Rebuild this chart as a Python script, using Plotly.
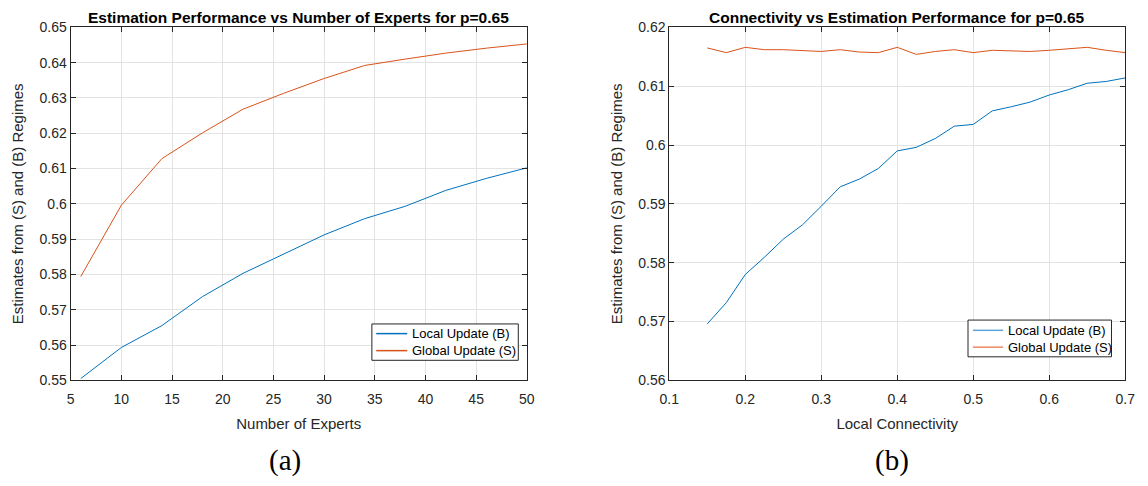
import plotly.graph_objects as go

# Panel (a): performance vs number of experts
experts = [6, 10, 14, 18, 22, 26, 30, 34, 38, 42, 46, 50]
local_a = [0.5505, 0.5593, 0.5655, 0.5737, 0.5803, 0.5857, 0.5912, 0.5958, 0.5993, 0.6038, 0.6072, 0.6102]
global_a = [0.5794, 0.5996, 0.6128, 0.6201, 0.6268, 0.6313, 0.6355, 0.6392, 0.6410, 0.6427, 0.6441, 0.6453]

# Panel (b): performance vs local connectivity
connectivity = [0.15, 0.175, 0.2, 0.225, 0.25, 0.275, 0.3, 0.325, 0.35, 0.375, 0.4, 0.425,
                0.45, 0.475, 0.5, 0.525, 0.55, 0.575, 0.6, 0.625, 0.65, 0.675, 0.7]
local_b = [0.5696, 0.5732, 0.5780, 0.5809, 0.5840, 0.5864, 0.5896, 0.5929, 0.5942, 0.5960,
           0.5990, 0.5996, 0.6011, 0.6032, 0.6035, 0.6058, 0.6065, 0.6073, 0.6085, 0.6094,
           0.6105, 0.6108, 0.6114]
global_b = [0.6165, 0.6157, 0.6166, 0.6162, 0.6162, 0.6160, 0.6159, 0.6162, 0.6158, 0.6157,
            0.6166, 0.6154, 0.6159, 0.6162, 0.6157, 0.6161, 0.6160, 0.6159, 0.6161, 0.6163,
            0.6166, 0.6161, 0.6157]

series_names = ["Local Update (B)", "Global Update (S)"]

BLUE = "#0072BD"
ORANGE = "#D95319"
AXIS = "#262626"
GRID = "#e3e3e3"
SANS = "Liberation Sans, Arial, sans-serif"
W, H = 1148, 486

fig = go.Figure()
fig.add_trace(go.Scatter(x=experts, y=local_a, mode="lines", name=series_names[0],
                         line=dict(color=BLUE, width=1), xaxis="x", yaxis="y"))
fig.add_trace(go.Scatter(x=experts, y=global_a, mode="lines", name=series_names[1],
                         line=dict(color=ORANGE, width=1), xaxis="x", yaxis="y"))
fig.add_trace(go.Scatter(x=connectivity, y=local_b, mode="lines", name=series_names[0],
                         line=dict(color=BLUE, width=1), xaxis="x2", yaxis="y2"))
fig.add_trace(go.Scatter(x=connectivity, y=global_b, mode="lines", name=series_names[1],
                         line=dict(color=ORANGE, width=1), xaxis="x2", yaxis="y2"))

tick_font = dict(family=SANS, size=14, color=AXIS)
title_font = dict(family=SANS, size=15, color=AXIS)


def axis_style(**kw):
    base = dict(showline=True, linecolor=AXIS, linewidth=1, mirror="ticks",
                ticks="inside", ticklen=5, tickcolor=AXIS, tickwidth=1,
                showgrid=True, gridcolor=GRID, gridwidth=1, zeroline=False,
                tickfont=tick_font, title_font=title_font)
    base.update(kw)
    return base


ytop = 1 - 20 / H
ybot = 1 - 385 / H
dom_a = [61.7 / W, 526 / W]
dom_b = [671 / W, 1135 / W]

fig.update_layout(
    width=W, height=H,
    margin=dict(l=0, r=0, t=0, b=0),
    paper_bgcolor="white", plot_bgcolor="white",
    showlegend=False,
    xaxis=axis_style(domain=dom_a, range=[5, 50], dtick=5, tick0=5, ticklabelstandoff=6,
                     title=dict(text="Number of Experts", standoff=12), anchor="y"),
    yaxis=axis_style(domain=[ybot, ytop], range=[0.55, 0.65], dtick=0.01, tick0=0.55,
                     title=dict(text="Estimates from (S) and (B) Regimes", standoff=12), anchor="x"),
    xaxis2=axis_style(domain=dom_b, range=[0.1, 0.7], dtick=0.1, tick0=0.1, ticklabelstandoff=6,
                      title=dict(text="Local Connectivity", standoff=12), anchor="y2"),
    yaxis2=axis_style(domain=[ybot, ytop], range=[0.56, 0.62], dtick=0.01, tick0=0.56,
                      title=dict(text="Estimates from (S) and (B) Regimes", standoff=12), anchor="x2"),
)


def px_x(v):
    return v / W


def px_y(v):
    return 1 - v / H


# Boxed legends, one per panel (box, sample lines, labels in pixel layout units)
legend_specs = [
    dict(box=(368.3, 326.7, 517.3, 364.3), line_x=(372.7, 404.3), rows=(336.7, 354.3),
         text_x=407.5, colors=(BLUE, ORANGE)),
    dict(box=(975.0, 322.7, 1121.0, 360.7), line_x=(980.0, 1010.7), rows=(333.3, 350.7),
         text_x=1013.5, colors=("#5aa6dc", "#ec8a62")),
]
for spec in legend_specs:
    x0, y0, x1, y1 = spec["box"]
    fig.add_shape(type="rect", xref="paper", yref="paper",
                  x0=px_x(x0), x1=px_x(x1), y0=px_y(y1), y1=px_y(y0),
                  line=dict(color=AXIS, width=1), fillcolor="white", layer="above")
    for name, row, color in zip(series_names, spec["rows"], spec["colors"]):
        fig.add_shape(type="line", xref="paper", yref="paper",
                      x0=px_x(spec["line_x"][0]), x1=px_x(spec["line_x"][1]),
                      y0=px_y(row), y1=px_y(row), line=dict(color=color, width=1.5),
                      layer="above")
        fig.add_annotation(text=name, x=px_x(spec["text_x"]), y=px_y(row),
                           xref="paper", yref="paper", showarrow=False,
                           xanchor="left", yanchor="middle",
                           font=dict(family=SANS, size=13, color="black"))

# Panel titles
panel_titles = [
    ("Estimation Performance vs Number of Experts for p=0.65", (dom_a[0] + dom_a[1]) / 2),
    ("Connectivity vs Estimation Performance for p=0.65", (dom_b[0] + dom_b[1]) / 2),
]
for text, xc in panel_titles:
    fig.add_annotation(text=f"<b>{text}</b>", x=xc, y=px_y(10), xref="paper", yref="paper",
                       showarrow=False, xanchor="center", yanchor="middle",
                       font=dict(family=SANS, size=15.5, color="black"))

# Sub-figure captions
for text, xpx in [("(a)", 280), ("(b)", 898)]:
    fig.add_annotation(text=text, x=px_x(xpx), y=px_y(468), xref="paper", yref="paper",
                       showarrow=False, xanchor="center", yanchor="middle",
                       font=dict(family="Liberation Serif, DejaVu Serif, serif", size=29,
                                 color="black"))

fig.write_html("out.html")
